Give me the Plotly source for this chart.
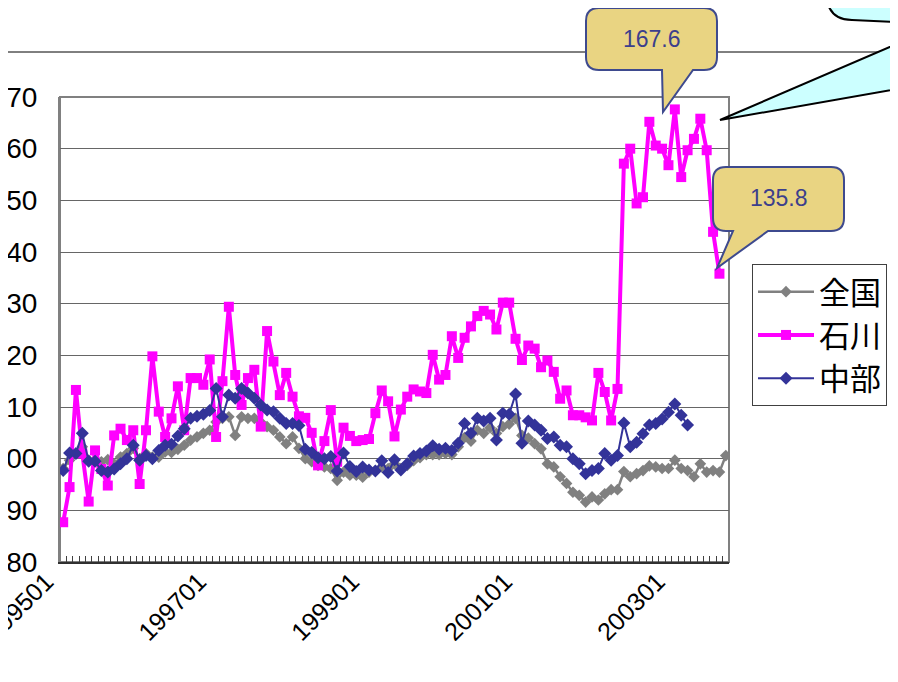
import plotly.graph_objects as go

# months 199501 .. 200309
months = [f"{y}{m:02d}" for y in range(1995, 2004) for m in range(1, 13)][:105]
tick_labels = ["199501", "199701", "199901", "200101", "200301"]

# 全国
zenkoku = [98.1, 99.7, 101.0, 102.3, 99.7, 99.4, 99.4, 99.8, 99.0, 100.3,
           101.0, 102.0, 100.0, 101.0, 100.3, 100.3, 101.3, 101.2, 101.8, 102.6,
           103.6, 104.2, 104.9, 105.5, 107.1, 107.8, 108.1, 104.5, 108.1, 107.8,
           107.8, 107.1, 106.2, 105.5, 104.2, 102.9, 104.2, 102.0, 100.0, 99.4,
           98.7, 98.4, 98.1, 95.8, 97.4, 96.8, 96.8, 96.4, 97.4, 97.7,
           98.4, 98.1, 99.0, 98.1, 98.7, 99.6, 100.2, 100.8, 100.8, 100.8,
           101.0, 100.8, 102.3, 104.1, 103.4, 105.5, 104.9, 106.0, 104.9, 106.2,
           106.7, 107.8, 104.5, 104.0, 102.9, 101.9, 99.0, 98.4, 96.5, 95.2,
           93.5, 92.9, 91.6, 92.6, 92.0, 93.2, 94.0, 94.0, 97.5, 96.5,
           97.1, 97.7, 98.6, 98.4, 98.1, 98.1, 99.7, 98.1, 97.7, 96.5,
           99.0, 97.4, 97.7, 97.4, 100.6]

# 石川
ishikawa = [87.7, 94.5, 113.3, 101.0, 91.7, 101.6, 98.0, 94.8, 104.5, 105.8,
            103.6, 105.5, 95.1, 105.5, 119.8, 109.1, 104.2, 107.8, 114.0, 105.5,
            115.6, 115.6, 114.3, 119.2, 104.2, 115.0, 129.4, 116.2, 110.4, 115.6,
            117.2, 106.2, 124.7, 118.8, 112.3, 116.6, 112.0, 108.2, 107.9, 105.0,
            98.7, 103.4, 109.4, 99.4, 106.0, 104.4, 103.4, 103.6, 103.8, 108.8,
            113.2, 111.1, 104.3, 109.5, 112.0, 113.4, 113.0, 112.7, 120.1, 115.3,
            116.2, 123.7, 119.5, 123.4, 125.6, 127.6, 128.6, 127.9, 125.0, 130.2,
            130.2, 123.2, 119.1, 121.9, 121.3, 117.7, 119.0, 116.8, 111.6, 113.2,
            108.4, 108.4, 108.0, 107.4, 116.6, 112.9, 107.4, 113.5, 157.1, 160.0,
            149.4, 150.6, 165.2, 160.6, 160.0, 156.8, 167.6, 154.5, 159.7, 161.9,
            165.8, 159.7, 143.9, 135.8]

# 中部
chubu = [97.7, 101.1, 101.0, 104.9, 99.5, 99.5, 97.7, 97.4, 98.0, 99.0,
         100.0, 102.6, 99.7, 100.6, 100.0, 101.6, 102.6, 102.8, 104.4, 105.8,
         107.8, 108.2, 108.6, 109.3, 113.6, 108.1, 112.3, 111.7, 113.6, 112.7,
         111.7, 110.4, 109.4, 109.1, 107.8, 106.8, 106.8, 106.4, 101.8, 101.2,
         100.2, 100.0, 100.4, 97.6, 101.1, 98.5, 97.5, 98.4, 97.8, 97.6,
         99.6, 97.3, 99.8, 97.8, 99.0, 100.5, 101.0, 101.5, 102.5, 101.8,
         102.0, 101.6, 103.0, 106.8, 104.9, 107.8, 107.3, 107.8, 103.6, 108.8,
         108.6, 112.5, 103.0, 107.3, 106.5, 105.5, 103.9, 104.2, 102.6, 102.3,
         100.0, 99.0, 97.1, 97.7, 98.1, 101.0, 99.7, 100.6, 106.9, 102.3,
         103.2, 104.8, 106.5, 106.8, 107.7, 109.0, 110.6, 108.4, 106.5]

# the page body has an 8px margin, so the figure starts at (8, 8) on screen
OFF = 8
W, H = 898 - OFF, 682 - OFF
L, R, T, B = 60, 729, 97, 562  # plot area, screen pixels


def px(x):
    return (x - L) / (R - L)


def py(y):
    return (B - y) / (B - T)


def path(points):
    out = []
    for cmd, pts in points:
        if cmd == "Z":
            out.append("Z")
            continue
        coords = " ".join(f"{px(a):.5f},{py(b):.5f}" for a, b in pts)
        out.append(f"{cmd} {coords}")
    return " ".join(out)


def callout(x0, y0, x1, y1, r, b0, b1, tip):
    return path([
        ("M", [(x0 + r, y0)]), ("L", [(x1 - r, y0)]), ("Q", [(x1, y0), (x1, y0 + r)]),
        ("L", [(x1, y1 - r)]), ("Q", [(x1, y1), (x1 - r, y1)]),
        ("L", [(b1, y1)]), ("L", [tip]), ("L", [(b0, y1)]),
        ("L", [(x0 + r, y1)]), ("Q", [(x0, y1), (x0, y1 - r)]),
        ("L", [(x0, y0 + r)]), ("Q", [(x0, y0), (x0 + r, y0)]), ("Z", None),
    ])


fig = go.Figure()
fig.add_trace(go.Scatter(x=months[:len(zenkoku)], y=zenkoku, name="全国", mode="lines+markers",
                         line=dict(color="#808080", width=2.5),
                         marker=dict(symbol="diamond", size=9, color="#808080")))
fig.add_trace(go.Scatter(x=months[:len(ishikawa)], y=ishikawa, name="石川", mode="lines+markers",
                         line=dict(color="#FF00FF", width=4),
                         marker=dict(symbol="square", size=10, color="#FF00FF")))
fig.add_trace(go.Scatter(x=months[:len(chubu)], y=chubu, name="中部", mode="lines+markers",
                         line=dict(color="#333399", width=2),
                         marker=dict(symbol="diamond", size=10, color="#333399")))

khaki = "#E9D482"
navy = "#3E4A8E"
shapes = [
    # plot area frame
    dict(type="rect", xref="paper", yref="paper", x0=0, y0=0, x1=1, y1=1,
         line=dict(color="#808080", width=2), layer="below"),
    # slide rule line at the top
    dict(type="line", xref="paper", yref="paper", x0=px(0), x1=px(910), y0=py(52), y1=py(52),
         line=dict(color="black", width=1)),
    # cyan callout (mostly off the picture)
    dict(type="path", xref="paper", yref="paper",
         path=path([("M", [(826, -10)]), ("Q", [(826, 20), (852, 20)]), ("L", [(920, 23)]),
                    ("L", [(920, -10)]), ("Z", None)]),
         fillcolor="#CCFFFF", line=dict(color="black", width=2)),
    dict(type="path", xref="paper", yref="paper",
         path=path([("M", [(720, 120)]), ("L", [(920, 34)]), ("L", [(920, 85)]), ("Z", None)]),
         fillcolor="#CCFFFF", line=dict(color="black", width=2)),
    # value callouts
    dict(type="path", xref="paper", yref="paper",
         path=callout(586, 8, 717, 70, 13, 662, 693, (663, 112)),
         fillcolor=khaki, line=dict(color=navy, width=2)),
    dict(type="path", xref="paper", yref="paper",
         path=callout(713, 167, 844, 231, 13, 733, 768, (717, 268)),
         fillcolor=khaki, line=dict(color=navy, width=2)),
]

callout_font = dict(family="Liberation Sans, Arial", size=23, color="#3C3F8C")
annotations = [
    dict(text="167.6", xref="paper", yref="paper", x=px(652), y=py(39), showarrow=False,
         xanchor="center", yanchor="middle", font=callout_font),
    dict(text="135.8", xref="paper", yref="paper", x=px(779), y=py(198), showarrow=False,
         xanchor="center", yanchor="middle", font=callout_font),
    dict(text="14", xref="paper", yref="paper", x=px(885), y=py(-2), showarrow=False,
         xanchor="center", yanchor="middle", font=callout_font),
]

fig.update_layout(
    width=W, height=H,
    margin=dict(l=L - OFF, r=W - (R - OFF), t=T - OFF, b=H - (B - OFF), autoexpand=False),
    paper_bgcolor="white", plot_bgcolor="white",
    font=dict(family="Liberation Sans, Arial", color="black"),
    showlegend=True,
    legend=dict(x=px(752), y=py(264), xanchor="left", yanchor="top",
                bordercolor="#404040", borderwidth=1, bgcolor="white",
                font=dict(family="Noto Sans CJK JP", size=31, color="black"),
                itemwidth=56, tracegroupgap=0),
    shapes=shapes,
    annotations=annotations,
    xaxis=dict(type="category", categoryorder="array", categoryarray=months,
               range=[-0.5, len(months) - 0.5], tickmode="array", tickvals=months,
               ticktext=[m if m in tick_labels else "" for m in months],
               tickson="boundaries", ticks="inside", ticklen=6, tickcolor="#404040",
               tickangle=-45, tickfont=dict(size=25), ticklabelshift=-17,
               ticklabelstandoff=-7, showgrid=False,
               showline=True, linecolor="#303030", linewidth=2, automargin=False),
    yaxis=dict(range=[80, 170], tickmode="linear", tick0=80, dtick=10,
               tickfont=dict(size=28), showgrid=True, gridcolor="#666666", gridwidth=1,
               zeroline=False, showline=True, linecolor="#808080", linewidth=2,
               ticks="", ticklabelstandoff=15, automargin=False),
)

fig.write_html("out.html")
